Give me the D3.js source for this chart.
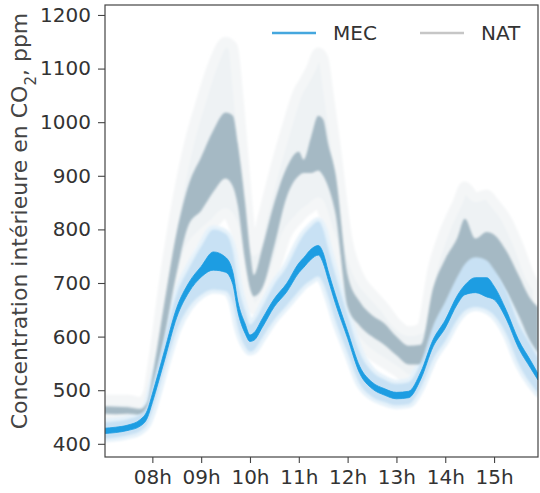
<!DOCTYPE html>
<meta charset="utf-8">
<title>CO2 MEC / NAT</title>
<style>
body { margin: 0; background: #fff; }
text { font-family: "DejaVu Sans", sans-serif; }
</style>
<body>
<svg width="540" height="493" id="svg"></svg>
<script src="https://cdnjs.cloudflare.com/ajax/libs/d3/7.8.5/d3.min.js"></script>
<script>

// heures (décimales)
var times = [7.0, 7.25, 7.5, 7.75, 7.9, 8.0, 8.25, 8.5, 8.75, 9.0, 9.25, 9.5, 9.65, 9.75, 9.9,
  10.0, 10.08, 10.25, 10.5, 10.75, 11.0, 11.1, 11.25, 11.4, 11.5, 11.6, 11.75, 12.0, 12.25,
  12.5, 12.75, 13.0, 13.25, 13.5, 13.75, 14.0, 14.25, 14.4, 14.62, 14.85, 15.0, 15.25, 15.5,
  15.75, 15.9];

// MEC : bande de la courbe et intervalle
var mecLo = [419, 421, 425, 433, 449, 477, 556, 636, 683, 711, 724, 720, 697, 647, 606,
  591, 593, 617, 656, 683, 719, 729, 744, 752, 737, 707, 662, 597, 531,
  503, 491, 484, 486, 521, 581, 616, 661, 678, 682, 674, 669, 633, 579, 541, 519];
var mecHi = [429, 431, 435, 445, 463, 493, 574, 654, 701, 731, 758, 748, 720, 666, 624,
  603, 607, 633, 671, 699, 737, 747, 763, 770, 756, 723, 678, 610, 544,
  515, 503, 496, 498, 534, 594, 631, 677, 696, 710, 710, 694, 649, 594, 555, 531];
var mecCiLo = [410, 412, 416, 424, 438, 462, 540, 612, 655, 678, 688, 685, 662, 618, 582,
  572, 575, 598, 632, 658, 685, 695, 705, 712, 700, 675, 630, 570, 512,
  488, 478, 472, 474, 505, 558, 592, 632, 648, 655, 650, 640, 605, 550, 512, 495];
var mecCiHi = [440, 442, 446, 455, 474, 510, 595, 680, 728, 768, 800, 792, 760, 700, 648,
  622, 628, 655, 698, 730, 775, 790, 805, 815, 800, 765, 715, 640, 570,
  535, 520, 512, 515, 552, 620, 665, 712, 735, 748, 742, 725, 685, 625, 585, 560];

// NAT
var natLo = [456, 455, 456, 454, 462, 490, 600, 720, 810, 835, 870, 895, 880, 845, 740,
  690, 675, 690, 770, 860, 900, 905, 905, 910, 900, 880, 830, 655, 620,
  600, 585, 565, 548, 548, 600, 640, 680, 715, 720, 718, 715, 685, 640, 590, 570];
var natHi = [470, 469, 468, 465, 478, 525, 665, 795, 885, 935, 985, 1018, 1012, 960, 850,
  760, 715, 765, 850, 915, 945, 930, 972, 1012, 1005, 960, 905, 715, 665,
  640, 625, 600, 583, 585, 690, 745, 785, 820, 783, 795, 790, 760, 715, 670, 655];
var natCiLo = [445, 445, 445, 442, 450, 475, 570, 680, 760, 790, 810, 830, 810, 780, 690,
  660, 650, 665, 720, 790, 820, 830, 840, 850, 830, 800, 760, 620, 585,
  565, 550, 535, 520, 525, 565, 610, 650, 680, 690, 690, 680, 660, 610, 560, 540];
var natCiHi = [482, 482, 482, 478, 492, 545, 710, 850, 960, 1040, 1110, 1150, 1140, 1060, 900,
  800, 760, 820, 910, 990, 1060, 1075, 1100, 1130, 1120, 1060, 960, 780, 710,
  680, 655, 625, 610, 615, 730, 800, 850, 880, 860, 865, 850, 820, 770, 710, 690];

var yTicks = [400, 500, 600, 700, 800, 900, 1000, 1100, 1200];
var xTicks = [8, 9, 10, 11, 12, 13, 14, 15];
var xTickLabels = ["08h", "09h", "10h", "11h", "12h", "13h", "14h", "15h"];

var svg = d3.select("svg"),
    margin = {top: 5, right: 2, bottom: 36, left: 105},
    width = +svg.attr("width") - margin.left - margin.right,
    height = +svg.attr("height") - margin.top - margin.bottom;

var x = d3.scaleLinear().domain([7.03, 15.9]).range([0, width]);
var y = d3.scaleLinear().domain([375.4, 1218.6]).range([height, 0]);

var defs = svg.append("defs");
defs.append("clipPath").attr("id", "clip")
  .append("rect").attr("width", width).attr("height", height);
defs.append("filter").attr("id", "soft")
  .append("feGaussianBlur").attr("stdDeviation", 1.3);

var g = svg.append("g").attr("transform", "translate(" + margin.left + "," + margin.top + ")");
var plot = g.append("g").attr("clip-path", "url(#clip)");

function band(lo, hi) {
  return d3.area()
    .x(function(d, i) { return x(times[i]); })
    .y0(function(d, i) { return y(lo[i]); })
    .y1(function(d, i) { return y(hi[i]); })
    .curve(d3.curveMonotoneX)(times);
}

// halo NAT
plot.append("path").attr("d", band(natCiLo, natCiHi))
  .attr("fill", "#eef2f4").attr("stroke", "#f4f6f7").attr("stroke-width", 10)
  .attr("stroke-linejoin", "round").attr("filter", "url(#soft)");
// halo MEC
plot.append("path").attr("d", band(mecCiLo, mecCiHi))
  .attr("fill", "#dcecf8").attr("stroke", "#e6f2fa").attr("stroke-width", 8)
  .attr("stroke-linejoin", "round").attr("filter", "url(#soft)");
// bande NAT
plot.append("path").attr("d", band(natLo, natHi))
  .attr("fill", "#a5b9c4").attr("filter", "url(#soft)");
// intervalle MEC
plot.append("path").attr("d", band(mecCiLo, mecCiHi))
  .attr("fill", "#c8e1f4").attr("filter", "url(#soft)");
// bande MEC
plot.append("path").attr("d", band(mecLo, mecHi))
  .attr("fill", "#1d9de2").attr("stroke", "#1d9de2").attr("stroke-width", 0.8);

// axes
var yAxis = g.append("g")
  .call(d3.axisLeft(y).tickValues(yTicks).tickSize(7).tickPadding(7)
    .tickFormat(d3.format("d")));
var xAxis = g.append("g").attr("transform", "translate(0," + height + ")")
  .call(d3.axisBottom(x).tickValues(xTicks).tickSize(6).tickPadding(7)
    .tickFormat(function(d, i) { return xTickLabels[i]; }));

[yAxis, xAxis].forEach(function(a) {
  a.select(".domain").remove();
  a.selectAll(".tick line").attr("stroke", "#444").attr("stroke-width", 1.1);
  a.selectAll(".tick text").attr("fill", "#333").style("font-size", "20px");
});

// cadre
g.append("rect").attr("width", width).attr("height", height)
  .attr("fill", "none").attr("stroke", "#444").attr("stroke-width", 1.2);

// titre axe y
var ylab = svg.append("text")
  .attr("transform", "translate(27,221) rotate(-90)")
  .attr("text-anchor", "middle").attr("fill", "#444").style("font-size", "22px");
ylab.append("tspan").text("Concentration intérieure en CO");
ylab.append("tspan").attr("baseline-shift", "sub").style("font-size", "15px").text("2");
ylab.append("tspan").text(", ppm");

// légende
var legend = [
  {name: "MEC", color: "#45a7de", x: 272},
  {name: "NAT", color: "#c6c6c6", x: 420}
];
var lg = svg.selectAll(".leg").data(legend).enter().append("g").attr("class", "leg")
  .attr("transform", function(d) { return "translate(" + d.x + ",33)"; });
lg.append("line").attr("x1", 0).attr("x2", 44).attr("stroke", function(d) { return d.color; })
  .attr("stroke-width", 2.5);
lg.append("text").attr("x", 61).attr("dy", "0.35em").attr("fill", "#333")
  .style("font-size", "20px").text(function(d) { return d.name; });

</script>
</body>
